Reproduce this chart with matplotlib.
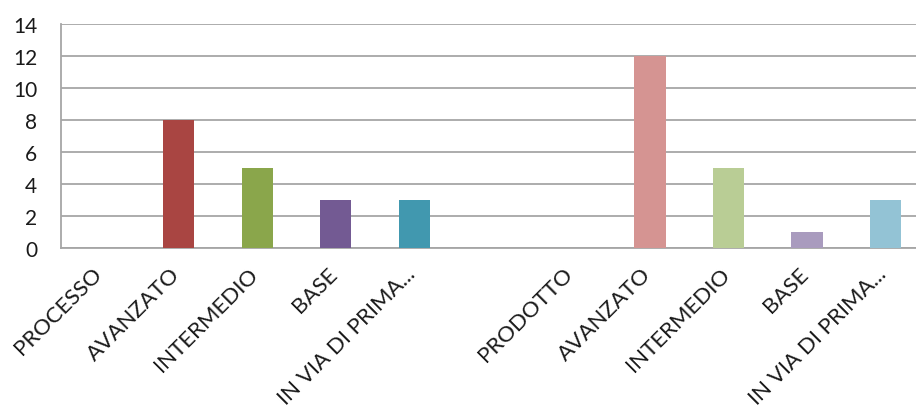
import numpy as np
import matplotlib.pyplot as plt
import matplotlib.transforms as mtransforms

# categories (empty slot separates the two groups)
categories = ["PROCESSO", "AVANZATO", "INTERMEDIO", "BASE", "IN VIA DI PRIMA...",
              "",
              "PRODOTTO", "AVANZATO", "INTERMEDIO", "BASE", "IN VIA DI PRIMA..."]
values = [0, 8, 5, 3, 3, 0, 0, 12, 5, 1, 3]
colors = ["#A94542", "#A94542", "#8AA64B", "#735A93", "#4198AF",
          "#FFFFFF",
          "#D59492", "#D59492", "#B9CD95", "#A99BBE", "#93C3D5"]
yticks = np.arange(0, 15, 2)

plt.rcParams.update({'font.family': ['Lato', 'DejaVu Sans'], 'font.size': 16})

fig = plt.figure(figsize=(9.16, 4.06), dpi=100)
ax = fig.add_axes([61/916, 1-249/406, 1-61/916, 224/406])

x = np.arange(len(categories))
ax.bar(x, values, width=0.4, color=colors, zorder=3)

ax.set_xlim(-0.5, 10.39)
ax.set_ylim(0, 14)
ax.set_yticks(yticks)
ax.set_yticklabels([str(v) for v in yticks], fontsize=15)
ax.grid(axis='y', color='#A6A6A6', linewidth=1.3, zorder=0)
ax.set_axisbelow(True)

ax.set_xticks(x)
ax.set_xticklabels(categories, rotation=45, ha='right')
ax.tick_params(axis='x', length=0, pad=11, colors='#1A1A1A')
ax.tick_params(axis='y', length=0, pad=17, colors='#1A1A1A')

# nudge the rotated labels a little to the right
shift = mtransforms.ScaledTranslation(5/100, 0, fig.dpi_scale_trans)
for lbl in ax.get_xticklabels():
    lbl.set_transform(lbl.get_transform() + shift)

for side in ['top', 'right']:
    ax.spines[side].set_visible(False)
for side in ['left', 'bottom']:
    ax.spines[side].set_color('#A6A6A6')
    ax.spines[side].set_linewidth(1.3)

plt.savefig("out.png", dpi=100)
